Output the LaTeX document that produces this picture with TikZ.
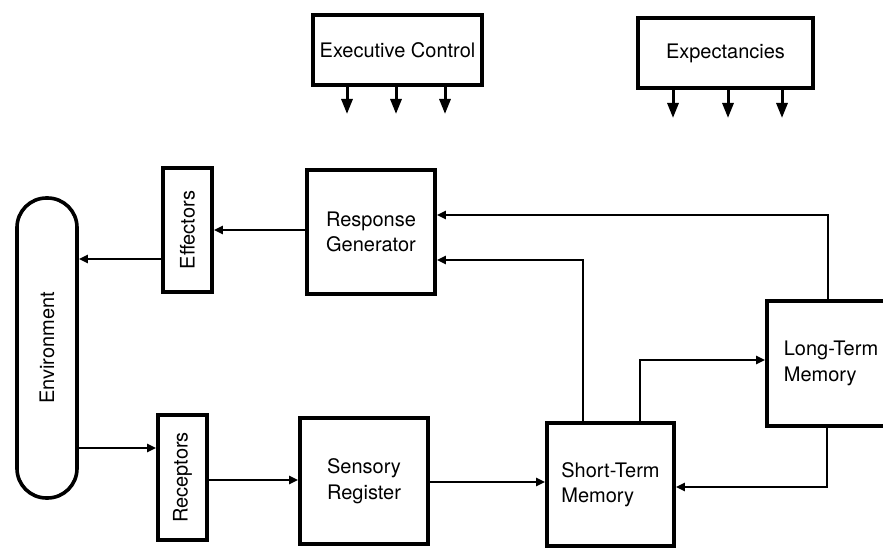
\documentclass[tikz,border=0pt]{standalone}
\usepackage{fontspec}
\setmainfont{TeX Gyre Heros}
\usetikzlibrary{arrows.meta}
\begin{document}
\begin{tikzpicture}[x=1pt,y=-1pt,
  txt/.style={font=\fontsize{20}{25.5}\selectfont, inner sep=0pt, align=left},
  box/.style={draw, line width=3.6pt, rectangle, inner sep=0pt, txt},
  conn/.style={line width=2.3pt, -{Triangle[length=9pt,width=8pt]}},
  cue/.style={line width=3pt, -{Triangle[length=15pt,width=11pt]}}]
\useasboundingbox (0,0) rectangle (883,548);
\clip (0,0) rectangle (883,548);
\fill[white] (0,0) rectangle (883,548);

% control boxes at the top
\node[box, minimum width=169pt, minimum height=70pt] (exec) at (397.5,50) {Executive Control};
\node[box, minimum width=175pt, minimum height=70pt] (expect) at (725.5,53) {Expectancies};

% processing stages
\node[box, minimum width=60pt, minimum height=300pt, rounded corners=29.5pt] (env) at (47,348) {};
\node[txt, rotate=90] (envT) at (env) {Environment};
\node[box, minimum width=49pt, minimum height=124pt] (eff) at (187.5,230) {};
\node[txt, rotate=90] (effT) at (eff) {Effectors};
\node[box, minimum width=49pt, minimum height=125pt] (rec) at (182.5,477.5) {};
\node[txt, rotate=90] (recT) at (rec) {Receptors};
\node[box, minimum width=128pt, minimum height=124pt] (resp) at (371,232) {Response\\Generator};
\node[box, minimum width=128pt, minimum height=126pt] (sens) at (364,481) {Sensory\\Register};
\node[box, minimum width=127pt, minimum height=123pt] (stm) at (610.5,484.5) {Short-Term\\Memory};
\node[box, minimum width=128pt, minimum height=125pt] (ltm) at (831,363.5) {Long-Term\\Memory};

% downward cues
\foreach \x in {347,396,445} {
  \coordinate (ec\x) at (\x,114);
  \draw[cue] (exec.south -| \x,0) -- (ec\x);
}
\foreach \x in {673,728,782} {
  \coordinate (ex\x) at (\x,118);
  \draw[cue] (expect.south -| \x,0) -- (ex\x);
}

% information flow
\draw[conn] (resp.west |- 0,230) -- (eff.east |- 0,230);
\draw[conn] (eff.west |- 0,259) -- (env.east |- 0,259);
\draw[conn] (env.east |- 0,448) -- (rec.west |- 0,448);
\draw[conn] (rec.east |- 0,480) -- (sens.west |- 0,480);
\draw[conn] (sens.east |- 0,482) -- (stm.west |- 0,482);
\draw[conn] (stm.north -| 583,0) |- (resp.east |- 0,260);
\draw[conn] (ltm.north -| 828,0) |- (resp.east |- 0,215);
\draw[conn] (stm.north -| 640,0) |- (ltm.west |- 0,360);
\draw[conn] (ltm.south -| 827,0) |- (stm.east |- 0,487);
\end{tikzpicture}
\end{document}
